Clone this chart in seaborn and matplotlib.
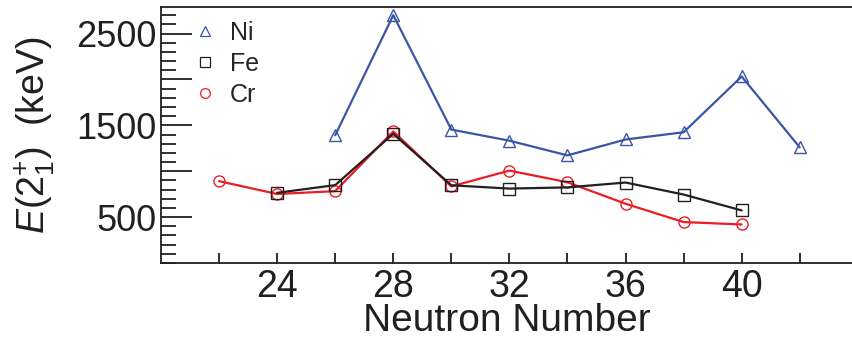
import matplotlib
matplotlib.use("Agg")
import matplotlib.pyplot as plt
from matplotlib.lines import Line2D
from matplotlib.ticker import MultipleLocator, FixedLocator
import seaborn as sns
import pandas as pd

# ---- data (E(2+_1) in keV vs neutron number) ----
ni_n = [26, 28, 30, 32, 34, 36, 38, 40, 42]
ni_e = [1392, 2701, 1454, 1333, 1173, 1346, 1425, 2033, 1260]
fe_n = [24, 26, 28, 30, 32, 34, 36, 38, 40]
fe_e = [765, 849, 1408, 847, 811, 824, 877, 746, 573]
cr_n = [22, 24, 26, 28, 30, 32, 34, 36, 38, 40]
cr_e = [892, 752, 783, 1434, 835, 1007, 880, 646, 446, 420]
series = ["Ni", "Fe", "Cr"]
x_ticklabels = [24, 28, 32, 36, 40]
y_ticklabels = [500, 1500, 2500]

colors = {"Ni": "#3b55a5", "Fe": "#231f20", "Cr": "#ed1c24"}
markers = {"Ni": "^", "Fe": "s", "Cr": "o"}
msizes = {"Ni": 9, "Fe": 8, "Cr": 8}

df = pd.concat([
    pd.DataFrame({"N": ni_n, "E": ni_e, "el": "Ni"}),
    pd.DataFrame({"N": fe_n, "E": fe_e, "el": "Fe"}),
    pd.DataFrame({"N": cr_n, "E": cr_e, "el": "Cr"}),
])

sns.set_style("ticks")
plt.rcParams["font.family"] = ["Liberation Sans", "DejaVu Sans"]
plt.rcParams["mathtext.fontset"] = "custom"
plt.rcParams["mathtext.rm"] = "Liberation Sans"
plt.rcParams["mathtext.it"] = "Liberation Sans:italic"

fig = plt.figure(figsize=(8.52, 3.43), dpi=100)
ax = fig.add_axes([161 / 852, 1 - 263 / 343, (852 - 161) / 852, (263 - 7) / 343])

for el in ["Cr", "Fe", "Ni"]:
    sub = df[df["el"] == el]
    sns.lineplot(data=sub, x="N", y="E", ax=ax, color=colors[el], lw=1.6,
                 marker=markers[el], markersize=msizes[el], markerfacecolor="none",
                 markeredgecolor=colors[el], markeredgewidth=1.0, legend=False)

ax.set_xlim(20, 43.8)
ax.set_ylim(0, 2790)

ax.xaxis.set_major_locator(FixedLocator(x_ticklabels))
ax.xaxis.set_minor_locator(FixedLocator([22, 26, 30, 34, 38, 42]))
ax.yaxis.set_minor_locator(MultipleLocator(100))
ax.set_yticks([500, 1000, 1500, 2000, 2500])
ax.set_yticklabels([str(v) if v in y_ticklabels else "" for v in [500, 1000, 1500, 2000, 2500]])

ax.tick_params(axis="x", which="both", direction="in", length=7, width=1.3,
               labelsize=27, pad=4, top=False, colors="#231f20")
ax.tick_params(axis="y", which="major", direction="in", length=22, width=1.3,
               labelsize=26, pad=3, right=False, colors="#231f20")
ax.tick_params(axis="y", which="minor", direction="in", length=11, width=1.3,
               right=False, colors="#231f20")

for side in ["left", "top", "bottom"]:
    ax.spines[side].set_linewidth(1.3)
    ax.spines[side].set_color("#231f20")
ax.spines["right"].set_visible(False)

ax.set_xlabel("Neutron Number", fontsize=28, labelpad=-1, color="#231f20")
ax.set_ylabel(r"$E(2^{+}_{1})$  (keV)", fontsize=27, labelpad=14, color="#231f20")

handles = [Line2D([], [], ls="none", marker=markers[el], markersize=7,
                  markerfacecolor="none", markeredgecolor=colors[el],
                  markeredgewidth=0.9) for el in series]
ax.legend(handles, series, loc="upper left", bbox_to_anchor=(0.035, 0.985),
          frameon=False, fontsize=18, handlelength=0.8, handletextpad=0.6,
          labelspacing=0.28, borderaxespad=0)

fig.savefig("out.png", dpi=100)
